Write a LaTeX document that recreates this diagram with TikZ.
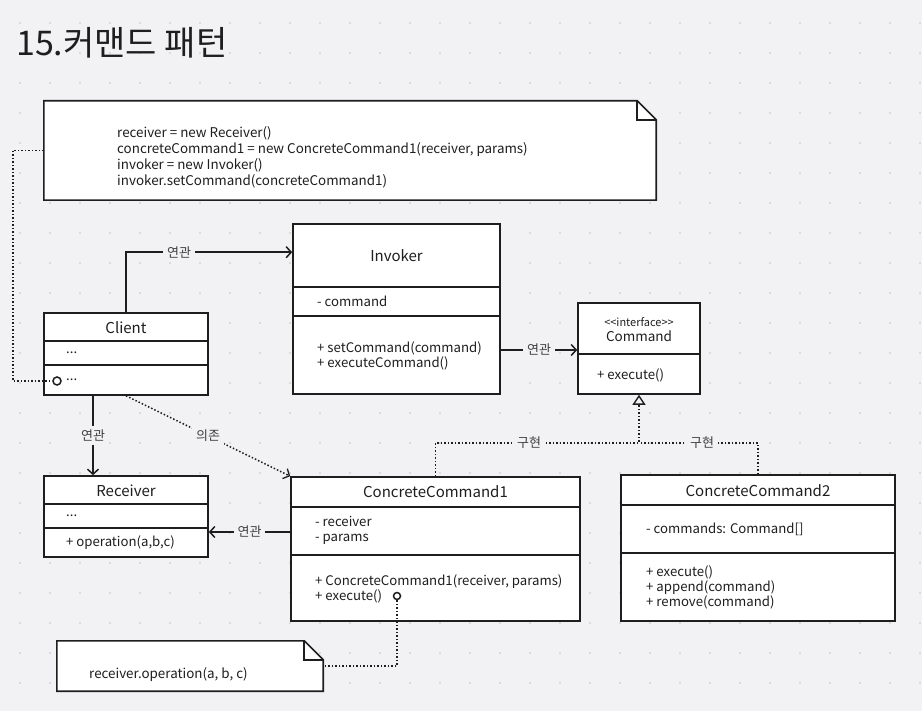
\documentclass[tikz,border=0pt]{standalone}
\usepackage{fontspec}
\setmainfont{Noto Sans CJK KR}
\usetikzlibrary{arrows.meta,calc}
\definecolor{bg}{HTML}{F2F2F5}
\definecolor{ink}{HTML}{1E1E1E}
\definecolor{griddot}{HTML}{C4C4C8}
\begin{document}
\begin{tikzpicture}[x=1pt,y=-1pt,
 box/.style={draw=ink,fill=white,line width=1.6pt,inner sep=0pt,rectangle},
 notebox/.style={rectangle,inner sep=0pt,draw=none},
 sepline/.style={draw=ink,line width=1.4pt},
 clsname/.style={font=\fontsize{15}{18}\selectfont, text=ink, inner sep=0pt},
 mem/.style={font=\fontsize{13.2}{15}\selectfont, text=ink, inner sep=0pt, anchor=west, align=left},
 notetxt/.style={font=\fontsize{13.4}{16}\selectfont, text=ink, inner sep=0pt, anchor=west, align=left},
 lab/.style={font=\fontsize{13}{15}\selectfont, text=ink!85, fill=bg, inner sep=4pt},
 assoc/.style={draw=ink,line width=1.5pt,-{Straight Barb[length=5pt,width=11pt,line width=1.5pt]}},
 dotl/.style={draw=ink,line width=1.5pt,dotted},
 opc/.style={circle,draw=ink,fill=white,line width=1.5pt,minimum size=8pt,inner sep=0pt}
]
\fill[bg] (0,0) rectangle (922,711);
\useasboundingbox (0,0) rectangle (922,711);
\foreach \gx in {20,50,...,920} \foreach \gy in {23,53,...,710} \fill[griddot] (\gx,\gy) circle (0.8pt);

% title
\node[anchor=base west, inner sep=0pt, font=\fontsize{34}{40}\selectfont, text=ink] (title) at (16,56) {15.커맨드 패턴};

% note 1
\node[notebox, minimum width=612pt, minimum height=99pt] (note1) at (350,150.5) {};
\draw[draw=ink, fill=white, line width=1.6pt] (note1.south west) -- (note1.north west) -- ([xshift=-19pt]note1.north east) -- ([yshift=-19pt]note1.north east) -- (note1.south east) -- cycle;
\draw[draw=ink, line width=1.6pt] ([xshift=-19pt]note1.north east) -- ++(0,19) -- ([yshift=-19pt]note1.north east);
\node[notetxt] (note1txt) at (117,157) {receiver = new Receiver()\\concreteCommand1 = new ConcreteCommand1(receiver, params)\\invoker = new Invoker()\\invoker.setCommand(concreteCommand1)};

% note 2
\node[notebox, minimum width=266pt, minimum height=50pt] (note2) at (190,666) {};
\draw[draw=ink, fill=white, line width=1.6pt] (note2.south west) -- (note2.north west) -- ([xshift=-19pt]note2.north east) -- ([yshift=-19pt]note2.north east) -- (note2.south east) -- cycle;
\draw[draw=ink, line width=1.6pt] ([xshift=-19pt]note2.north east) -- ++(0,19) -- ([yshift=-19pt]note2.north east);
\node[notetxt] (note2txt) at (89,675) {receiver.operation(a, b, c)};

% Client
\node[box, minimum width=164pt, minimum height=82pt] (client) at (126,354) {};
\draw[sepline] (44,341) -- (208,341);
\draw[sepline] (44,365) -- (208,365);
\node[clsname] (clientname) at (126,328) {Client};
\node[mem] (clienta) at (66,353) {...};
\node[mem] (clientb) at (66,380) {...};
\node[opc] (clientop) at (57,381) {};

% Invoker
\node[box, minimum width=207pt, minimum height=170pt] (invoker) at (396.5,309) {};
\draw[sepline] (293,287) -- (500,287);
\draw[sepline] (293,316) -- (500,316);
\node[clsname] (invname) at (396.5,256) {Invoker};
\node[mem] (inva) at (317,301) {- command};
\node[mem] (invb) at (317,355.5) {+ setCommand(command)\\+ executeCommand()};

% Command
\node[box, minimum width=122pt, minimum height=91pt] (command) at (639,348.5) {};
\draw[sepline] (578,354) -- (700,354);
\node[inner sep=0pt, font=\fontsize{11}{13}\selectfont, text=ink] (cmdst) at (639,322) {{<}{<}interface{>}{>}};
\node[clsname, font=\fontsize{13.5}{15}\selectfont] (cmdname) at (639,336) {Command};
\node[mem] (cmdb) at (597,375) {+ execute()};

% Receiver
\node[box, minimum width=164pt, minimum height=81pt] (receiver) at (126,516.5) {};
\draw[sepline] (44,504) -- (208,504);
\draw[sepline] (44,528) -- (208,528);
\node[clsname] (recname) at (126,491) {Receiver};
\node[mem] (reca) at (66,516) {...};
\node[mem] (recb) at (66,543) {+ operation(a,b,c)};

% ConcreteCommand1
\node[box, minimum width=289pt, minimum height=144pt] (cc1) at (435.5,549) {};
\draw[sepline] (291,507) -- (580,507);
\draw[sepline] (291,555) -- (580,555);
\node[clsname] (cc1name) at (435.5,492) {ConcreteCommand1};
\node[mem] (cc1a) at (315,530.5) {- receiver\\- params};
\node[mem] (cc1b) at (315,588.5) {+ ConcreteCommand1(receiver, params)\\+ execute()};
\node[opc, minimum size=7pt] (execop) at (397,596) {};

% ConcreteCommand2
\node[box, minimum width=274pt, minimum height=146pt] (cc2) at (758,548) {};
\draw[sepline] (621,505) -- (895,505);
\draw[sepline] (621,553) -- (895,553);
\node[clsname] (cc2name) at (758,491) {ConcreteCommand2};
\node[mem] (cc2a) at (646,529) {- commands: Command[]};
\node[mem] (cc2b) at (646,587) {+ execute()\\+ append(command)\\+ remove(command)};

% connectors
\draw[dotl] (note1.west) -- ++(-31,0) |- (clientop.west);
\draw[dotl] (execop.south) |- (note2.east);

\draw[assoc] (client.north) |- ([yshift=-29pt]invoker.north west) node[lab, pos=0.66] (l1) {연관};
\coordinate (ic) at ([yshift=-41pt]invoker.east);
\draw[assoc] (ic) -- (command.west |- ic) node[lab, midway] (l2) {연관};
\draw[assoc] ([xshift=-33pt]client.south) -- ([xshift=-33pt]receiver.north) node[lab, midway] (l3) {연관};
\coordinate (cr) at ([yshift=17pt]cc1.west);
\draw[assoc] (cr) -- (receiver.east |- cr) node[lab, midway] (l4) {연관};
\draw[dotl, -{Straight Barb[length=5pt,width=11pt,line width=1.3pt]}] (client.south) -- (cc1.north west) node[lab, midway] (l5) {의존};

\coordinate (gj) at ($(command.south)+(0,48)$);
\draw[dotl] (cc2.north) |- (gj) node[lab, pos=0.735] (l7) {구현};
\draw[dotl, -{Triangle[open, length=10pt, width=13pt, line width=1.4pt]}] (cc1.north) |- (gj) node[lab, pos=0.73] (l6) {구현} -- (command.south);
\end{tikzpicture}
\end{document}
